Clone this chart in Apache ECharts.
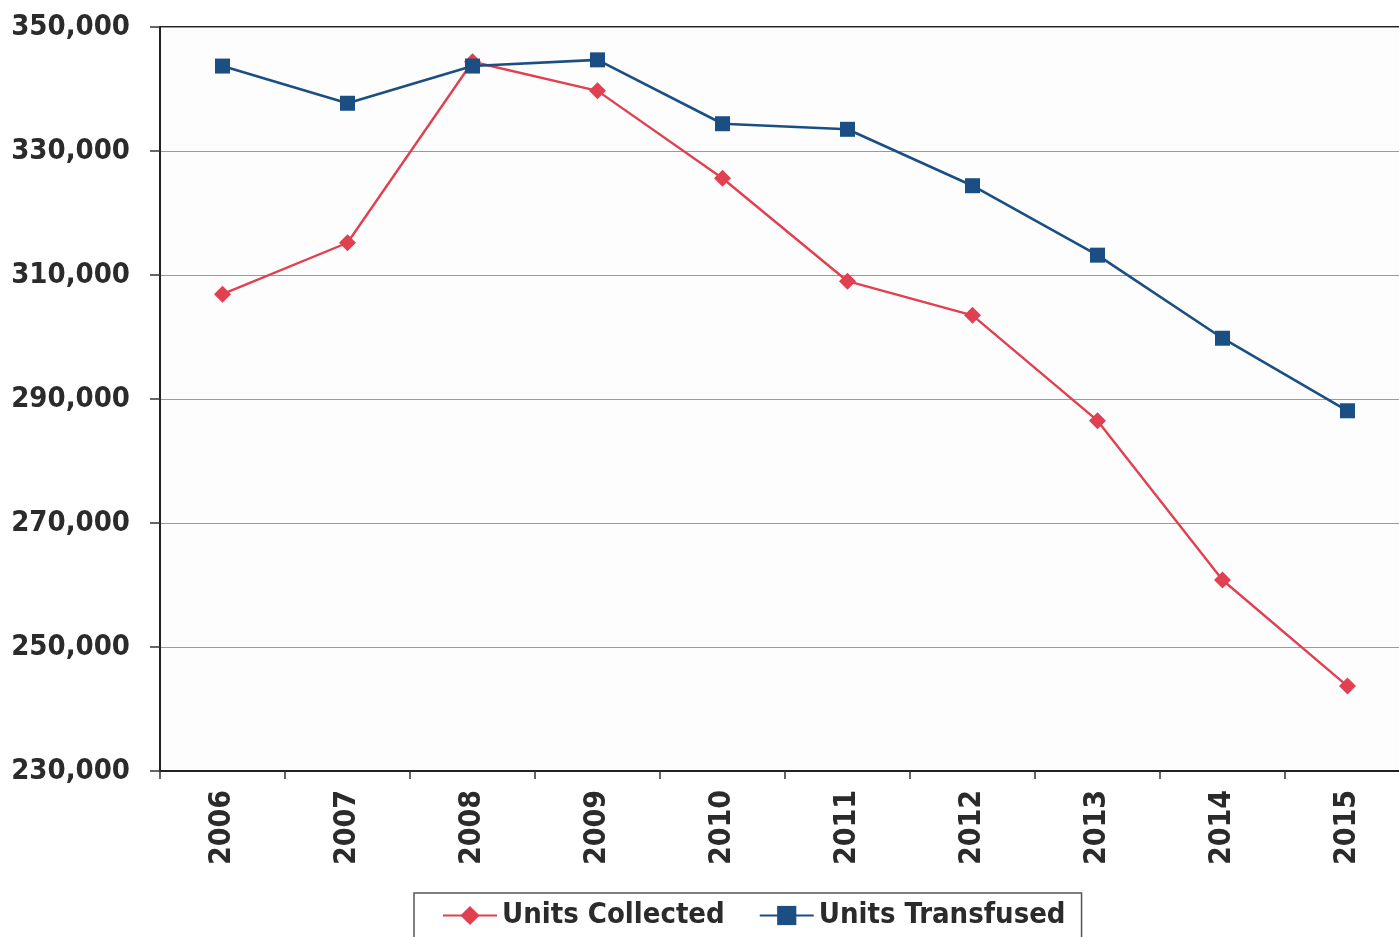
<!DOCTYPE html>
<html>
<head>
<meta charset="utf-8">
<script src="https://cdn.jsdelivr.net/npm/echarts@6/dist/echarts.min.js"></script>
<style>
  html, body { margin: 0; padding: 0; background: #fff; overflow: hidden; }
  #chart { width: 1410px; height: 937px; }
</style>
</head>
<body>
<div id="chart"></div>
<script>
const years = ['2006', '2007', '2008', '2009', '2010', '2011', '2012', '2013', '2014', '2015'];
const unitsCollected = [306900, 315200, 344400, 339700, 325600, 309000, 303500, 286500, 260800, 243700];
const unitsTransfused = [343700, 337700, 343700, 344700, 334400, 333500, 324400, 313200, 299800, 288100];

const font = 'DejaVu Sans Condensed, DejaVu Sans, sans-serif';
const inkColor = '#2b2b2b';

const chart = echarts.init(document.getElementById('chart'));

chart.setOption({
    animation: false,
    backgroundColor: '#ffffff',
    grid: {
        left: 160,
        top: 27,
        right: 0,
        bottom: 166,
        show: true,
        backgroundColor: '#fdfdfd',
        borderColor: '#222',
        borderWidth: 2
    },
    legend: {
        left: 414,
        top: 893,
        padding: [8, 16, 40, 28],
        itemGap: 34,
        itemWidth: 54,
        itemHeight: 24,
        borderColor: '#555',
        borderWidth: 1.5,
        textStyle: {
            fontFamily: font,
            fontWeight: 'bold',
            fontSize: 29,
            color: inkColor
        },
        data: ['Units Collected', 'Units Transfused']
    },
    xAxis: {
        type: 'category',
        data: years,
        boundaryGap: true,
        axisLine: { lineStyle: { color: '#222', width: 2 } },
        axisTick: { show: true, length: 8, lineStyle: { color: '#333', width: 1.5 } },
        axisLabel: {
            rotate: 90,
            margin: 19,
            fontFamily: font,
            fontWeight: 'bold',
            fontSize: 30,
            color: inkColor
        },
        splitLine: { show: false }
    },
    yAxis: {
        type: 'value',
        min: 230000,
        max: 350000,
        interval: 20000,
        axisLine: { show: true, lineStyle: { color: '#222', width: 2 } },
        axisTick: { show: true, length: 10, lineStyle: { color: '#333', width: 1.5 } },
        axisLabel: {
            margin: 30,
            fontFamily: font,
            fontWeight: 'bold',
            fontSize: 29,
            color: inkColor,
            formatter: v => v.toLocaleString('en-US')
        },
        splitLine: { lineStyle: { color: '#9a9a9a', width: 1.2 } }
    },
    series: [
        {
            name: 'Units Collected',
            type: 'line',
            data: unitsCollected,
            symbol: 'diamond',
            symbolSize: 17,
            lineStyle: { color: '#e0404f', width: 2.4 },
            itemStyle: { color: '#e0404f' }
        },
        {
            name: 'Units Transfused',
            type: 'line',
            data: unitsTransfused,
            symbol: 'rect',
            symbolSize: 15,
            lineStyle: { color: '#1b4f83', width: 2.6 },
            itemStyle: { color: '#1b4f83' }
        }
    ]
});
</script>
</body>
</html>
